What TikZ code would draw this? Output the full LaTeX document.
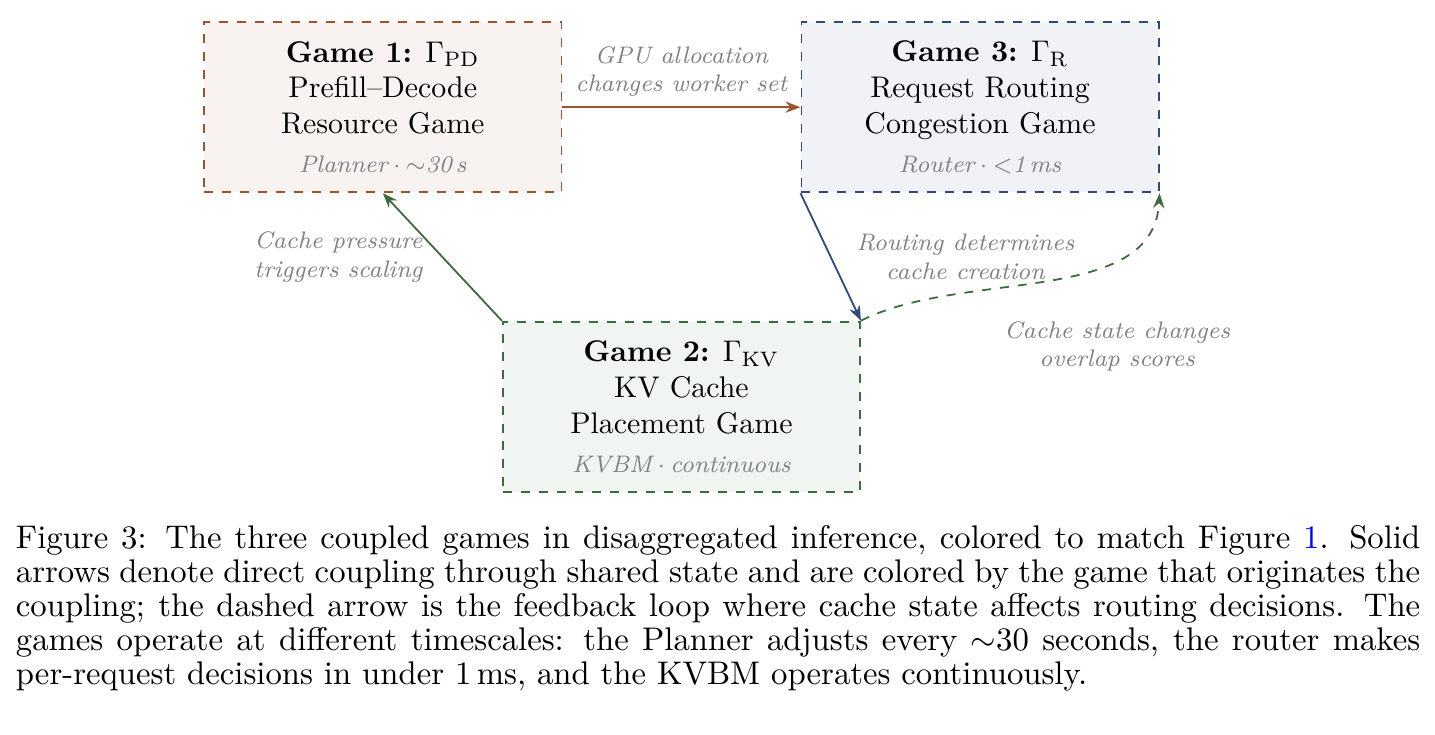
\documentclass[tikz,border=0pt]{standalone}
\definecolor{Rust}{HTML}{A0522D}
\definecolor{Pine}{HTML}{3D6B40}
\definecolor{Navy}{HTML}{2E4A7D}
\usepackage{amsmath,amssymb}
\usepackage{tikz}
\usetikzlibrary{arrows.meta,positioning,calc}
\usepackage{xcolor}
\tikzset{
    % Dashed frames, one colour per game
    gamebox/.style={
        rectangle,
        dashed,
        semithick,
        minimum width=4.2cm,
        minimum height=2cm,
        align=center,
        font=\normalsize
    },
    pdbox/.style={gamebox, draw=Rust, fill=Rust!7},
    kvbox/.style={gamebox, draw=Pine, fill=Pine!7},
    routerbox/.style={gamebox, draw=Navy, fill=Navy!7},
    couplinglabel/.style={
        font=\footnotesize\itshape,
        text=black!50,
        align=center
    },
    arrow/.style={
        -{Stealth[length=5pt]},
        semithick
    },
    dashedarrow/.style={
        -{Stealth[length=5pt]},
        dashed,
        semithick
    },
    captionbox/.style={
        inner sep=0pt,
        text width=469.75pt,
        align=justify,
        font=\fontsize{10.95}{11.4}\selectfont
    }
}

\begin{document}
\begin{tikzpicture}[node distance=0.8cm]
    \useasboundingbox (0,0) rectangle (16.87,-8.63);

    \node[pdbox] (pd) at (4.5,-1.26) {
        \textbf{Game 1:} $\Gamma_{\mathrm{PD}}$\\
        Prefill--Decode\\
        Resource Game\\[1pt]
        {\footnotesize\itshape\color{black!50}Planner${}\cdot{}$$\sim$30\,s}
    };
    \node[routerbox, right=2.8cm of pd] (router) {
        \textbf{Game 3:} $\Gamma_{\mathrm{R}}$\\
        Request Routing\\
        Congestion Game\\[1pt]
        {\footnotesize\itshape\color{black!50}Router${}\cdot{}$${<}$1\,ms}
    };
    \coordinate (mid) at ($(pd.south)!0.5!(router.south)$);
    \node[kvbox, below=1.5cm of mid, anchor=north] (kv) {
        \textbf{Game 2:} $\Gamma_{\mathrm{KV}}$\\
        KV Cache\\
        Placement Game\\[1pt]
        {\footnotesize\itshape\color{black!50}KVBM${}\cdot{}$continuous}
    };

    % couplings
    \draw[arrow, Rust] (pd.east) -- node[couplinglabel, above]
        {GPU allocation\\changes worker set} (router.west);
    \draw[arrow, Pine] (kv.north west) -- node[couplinglabel, midway, left=3pt]
        {Cache pressure\\triggers scaling} (pd.south);
    \draw[arrow, Navy] (router.south west) -- node[couplinglabel, midway, right=5pt]
        {Routing determines\\cache creation} (kv.north east);
    \draw[dashedarrow, Pine] (kv.north east) to[out=27, in=-93, looseness=0.9]
        node[couplinglabel, pos=0.45, xshift=30pt, yshift=-21pt]
        {Cache state changes\\overlap scores} (router.south east);

    \node[captionbox, anchor=north west] (caption) at (0.18,-6.17) {\noindent
        Figure 3: The three coupled games in disaggregated inference, colored to match Figure \textcolor{blue}{1}. Solid arrows denote direct coupling through shared state and are colored by the game that originates the coupling; the dashed arrow is the feedback loop where cache state affects routing decisions. The games operate at different timescales: the Planner adjusts every $\sim$30 seconds, the router makes per-request decisions in under 1\,ms, and the KVBM operates continuously.
    };
\end{tikzpicture}
\end{document}
